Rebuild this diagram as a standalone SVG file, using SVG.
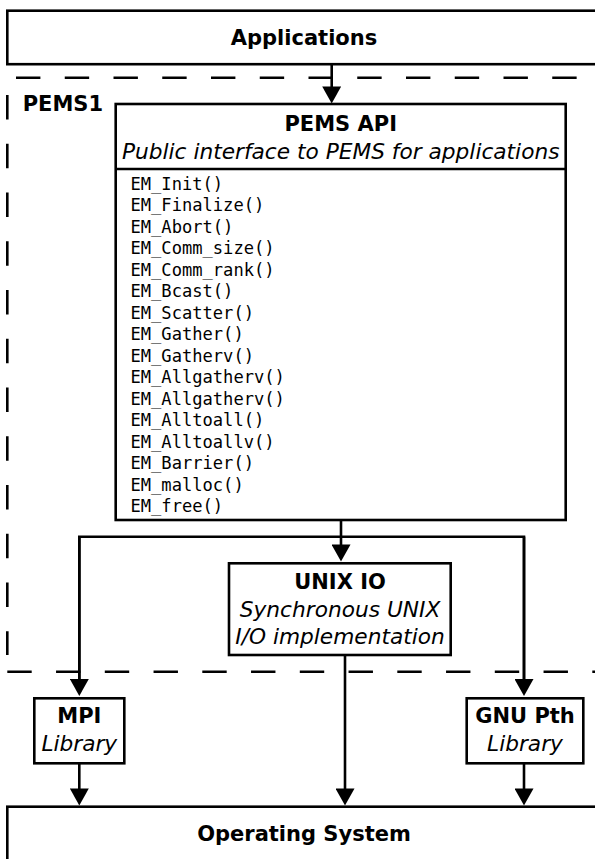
<svg xmlns="http://www.w3.org/2000/svg" width="595" height="859" viewBox="0 0 595 859">
<style>
.box{fill:#fff;stroke:#000;stroke-width:2.6}
.dash{fill:none;stroke:#000;stroke-width:2.6;stroke-dasharray:24.4 24.35}
.conn{fill:none;stroke:#000;stroke-width:2.6}
.b{font-family:"DejaVu Sans",sans-serif;font-weight:bold;font-size:21px;text-anchor:middle}
.i{font-family:"DejaVu Sans",sans-serif;font-style:italic;font-size:21.7px;text-anchor:middle}
.m{font-family:"DejaVu Sans Mono",monospace;font-size:17.1px}
</style>
<defs>
<marker id="ah" markerUnits="userSpaceOnUse" markerWidth="18" markerHeight="19" viewBox="0 0 17 19" refX="2" refY="9.5" orient="auto">
<path d="M0,0 L17,9.5 L0,19 z" fill="#000"/>
</marker>
</defs>
<g id="pems1-boundary">
<line class="dash" x1="16" y1="77.7" x2="595" y2="77.7"/>
<line class="dash" x1="7.3" y1="95" x2="7.3" y2="655"/>
<line class="dash" x1="7.3" y1="671.7" x2="595" y2="671.7"/>
<text x="22.7" y="111" class="b" style="text-anchor:start">PEMS1</text>
</g>
<g id="applications">
<rect class="box" x="7.3" y="10.7" width="600" height="53.5"/>
<text x="304" y="44.5" class="b">Applications</text>
</g>
<g id="pems-api">
<rect class="box" x="115.7" y="104" width="450" height="416"/>
<line class="conn" x1="115.7" y1="169" x2="565.7" y2="169"/>
<text x="340.7" y="131" class="b">PEMS API</text>
<text x="340.7" y="158.5" class="i">Public interface to PEMS for applications</text>
<text class="m" x="130.5" y="189.5">EM_Init()</text>
<text class="m" x="130.5" y="211">EM_Finalize()</text>
<text class="m" x="130.5" y="232.5">EM_Abort()</text>
<text class="m" x="130.5" y="254">EM_Comm_size()</text>
<text class="m" x="130.5" y="275.5">EM_Comm_rank()</text>
<text class="m" x="130.5" y="297">EM_Bcast()</text>
<text class="m" x="130.5" y="318.5">EM_Scatter()</text>
<text class="m" x="130.5" y="340">EM_Gather()</text>
<text class="m" x="130.5" y="361.5">EM_Gatherv()</text>
<text class="m" x="130.5" y="383">EM_Allgatherv()</text>
<text class="m" x="130.5" y="404.5">EM_Allgatherv()</text>
<text class="m" x="130.5" y="426">EM_Alltoall()</text>
<text class="m" x="130.5" y="447.5">EM_Alltoallv()</text>
<text class="m" x="130.5" y="469">EM_Barrier()</text>
<text class="m" x="130.5" y="490.5">EM_malloc()</text>
<text class="m" x="130.5" y="512">EM_free()</text>
</g>
<g id="unix-io">
<rect class="box" x="229" y="563.3" width="221.7" height="91.7"/>
<text x="340" y="588.5" class="b">UNIX IO</text>
<text x="340" y="616.5" class="i">Synchronous UNIX</text>
<text x="340" y="644" class="i">I/O implementation</text>
</g>
<g id="mpi">
<rect class="box" x="34.3" y="698.3" width="90" height="65"/>
<text x="79.3" y="722.5" class="b">MPI</text>
<text x="79.3" y="751" class="i">Library</text>
</g>
<g id="gnu-pth">
<rect class="box" x="466.7" y="698.3" width="116.6" height="65"/>
<text x="525" y="722.5" class="b">GNU Pth</text>
<text x="525" y="751" class="i">Library</text>
</g>
<g id="operating-system">
<rect class="box" x="7.3" y="806.7" width="600" height="70"/>
<text x="304" y="841" class="b">Operating System</text>
</g>
<g id="connectors">
<path class="conn" d="M331.7,64 V88.5" marker-end="url(#ah)"/>
<path class="conn" d="M341,520 V546.5" marker-end="url(#ah)"/>
<path class="conn" d="M79.3,680 V536.7 H524 V680"/>
<path class="conn" d="M79.3,536.7 V681" marker-end="url(#ah)"/>
<path class="conn" d="M524,536.7 V681" marker-end="url(#ah)"/>
<path class="conn" d="M79.3,763.3 V790.5" marker-end="url(#ah)"/>
<path class="conn" d="M345,655 V790.5" marker-end="url(#ah)"/>
<path class="conn" d="M524,763.3 V790.5" marker-end="url(#ah)"/>
</g>
</svg>
